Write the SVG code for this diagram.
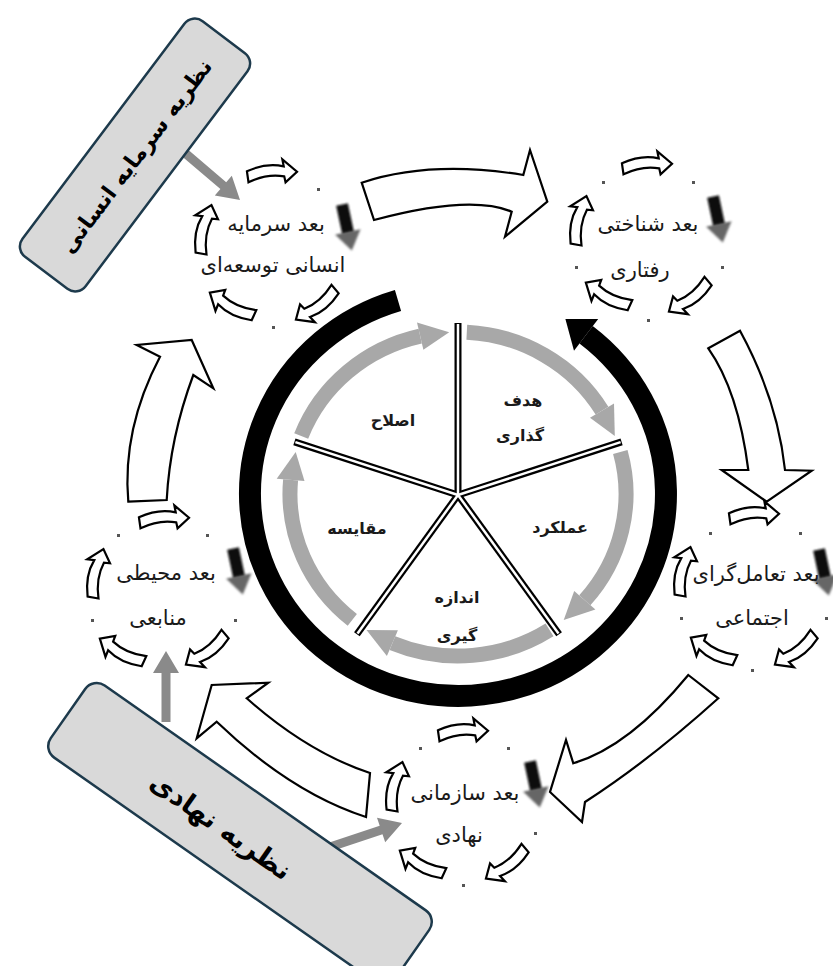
<svg xmlns="http://www.w3.org/2000/svg" width="833" height="966" viewBox="0 0 833 966">
<defs>
<style>
.lbl{font-family:"DejaVu Sans","Noto Sans",sans-serif;font-size:21px;fill:#1a1a1a;text-anchor:middle}
.pie{font-family:"DejaVu Sans","Noto Sans",sans-serif;font-size:16px;font-weight:bold;fill:#1a1a1a;text-anchor:middle}
.th{font-family:"DejaVu Sans","Noto Sans",sans-serif;font-size:22px;font-weight:bold;fill:#000;text-anchor:middle}
.box{fill:#d9d9d9;stroke:#1d3a4c;stroke-width:2.5}
.big{fill:#fff;stroke:#000;stroke-width:2.2;stroke-linejoin:miter}
.sm{fill:#fff;stroke:#000;stroke-width:2.2}
.link{fill:#8a8a8a}
.ring{fill:none;stroke:#a8a8a8;stroke-width:15}
.gh{fill:#a8a8a8}
.dot{fill:#555}
.spk{stroke:#000;stroke-width:7;stroke-linecap:butt}
.spw{stroke:#fff;stroke-width:2.5;stroke-linecap:butt}
</style>
<filter id="blur" x="-50%" y="-50%" width="200%" height="200%"><feGaussianBlur stdDeviation="1.1"/></filter>
<path id="sa" class="sm" d="M-25,-2 Q-5,-10 12,-5 L11,-12 L25,1 L13,11 L12,5 Q-5,1 -24,9 Z"/>
<g id="da"><path d="M-6,-24 L6,-24 L6,6 L-6,6 Z" fill="#111" filter="url(#blur)"/><path d="M-13,4 L13,4 L0,23 Z" fill="#666" filter="url(#blur)"/></g>
</defs>

<g id="cycle-ring">
<path d="M398,300.5 A208 202 0 1 0 586.1,334.8" fill="none" stroke="#000" stroke-width="22"/>
<path d="M598.2,318.9 L565.4,319.1 L574,350.7 Z" fill="#000"/>
</g>

<g id="inner-cycle">
<path class="ring" d="M466.8,332.2 A168 162 0 0 1 602,410.6"/>
<path class="gh" d="M614,403.4 L614.8,435.9 L590,417.8 Z"/>
<path class="ring" d="M620.3,452.1 A168 162 0 0 1 584.8,600.3"/>
<path class="gh" d="M595.4,609.5 L563.7,619.9 L574.2,591.1 Z"/>
<path class="ring" d="M549.5,629.9 A168 162 0 0 1 392.4,643.1"/>
<path class="gh" d="M386.9,656 L366.5,629.9 L397.9,630.2 Z"/>
<path class="ring" d="M352.3,619.9 A168 162 0 0 1 290.6,479.9"/>
<path class="gh" d="M276.7,478.7 L295.7,452.1 L304.5,481.1 Z"/>
<path class="ring" d="M301.2,435.9 A168 162 0 0 1 420.2,336.1"/>
<path class="gh" d="M417,322.5 L449.2,332.2 L423.4,349.7 Z"/>
<g class="spk">
<line x1="458" y1="495" x2="458" y2="323"/>
<line x1="458" y1="495" x2="621.6" y2="441.8"/>
<line x1="458" y1="495" x2="559.1" y2="634.2"/>
<line x1="458" y1="495" x2="356.9" y2="634.2"/>
<line x1="458" y1="495" x2="294.4" y2="441.8"/>
</g>
<g class="spw">
<line x1="458" y1="495" x2="458" y2="324"/>
<line x1="458" y1="495" x2="620.6" y2="442.1"/>
<line x1="458" y1="495" x2="558.5" y2="633.4"/>
<line x1="458" y1="495" x2="357.5" y2="633.4"/>
<line x1="458" y1="495" x2="295.4" y2="442.1"/>
</g>
</g>

<g id="wedge-goal"><text class="pie" x="523" y="406">هدف</text><text class="pie" x="520" y="441">گذاری</text></g>
<g id="wedge-performance"><text class="pie" x="560" y="533">عملکرد</text></g>
<g id="wedge-measure"><text class="pie" x="457" y="603">اندازه</text><text class="pie" x="457" y="641">گیری</text></g>
<g id="wedge-compare"><text class="pie" x="357" y="534">مقایسه</text></g>
<g id="wedge-correct"><text class="pie" x="393" y="426">اصلاح</text></g>

<g id="connectors">
<path class="big" d="M361.7,182.7 Q430.9,159.8 523.3,175 L530,150 L547.3,201.7 L505,236.7 L511.7,211.7 Q470.6,194.2 374,220 Z"/>
<path class="big" d="M708.3,348.3 L740,330.7 Q777.5,399.7 785,470 L811.7,470.7 L766.7,501.7 L721.7,470 L748.3,470 Q738.3,390.9 708.3,348.3 Z"/>
<path class="big" d="M688.3,675 L718.3,698.3 Q650,760 585,802 L582,822 L550,792 L566,740 L573.3,763.3 Q629.2,746.8 688.3,675 Z"/>
<path class="big" d="M370,773 Q307.7,752.4 246.7,698.3 L268.3,682.7 L211.7,685 L196.7,738.3 L216.7,721.7 Q290.6,792.6 366,817 Z"/>
<path class="big" d="M128.3,501.7 L166.7,500 Q170,437.5 193.3,375 L213.3,388.3 L191.7,340 L136.7,345 L160,356.7 Q122,429 128.3,501.7 Z"/>
<path class="link" d="M182.1,156.4 L220.4,189.1 L214.8,195.6 L240,200 L231.8,175.8 L226.2,182.3 L187.9,149.6 Z"/>
<path class="link" d="M161.5,722 L161.5,673 L153,673 L166,651 L179,673 L170.5,673 L170.5,722 Z"/>
<path class="link" d="M316.4,856.3 L382.5,834.3 L385.2,842.3 L402,823 L377,817.7 L379.7,825.7 L313.6,847.7 Z"/>
</g>

<g id="theory-human-capital">
<rect class="box" x="-147.5" y="-39.5" width="295" height="79" rx="13" transform="translate(135,155) rotate(-53)"/>
<text class="th" transform="translate(136,156) rotate(-53)" dy="0.35em">نظریه سرمایه انسانی</text>
</g>

<g id="theory-institutional">
<rect class="box" x="-210" y="-44" width="420" height="88" rx="14" transform="translate(240,834) rotate(35)"/>
<text class="th" transform="translate(221,826) rotate(35)" dy="0.35em" style="font-size:27px">نظریه نهادی</text>
</g>

<g id="node-human-capital">
<use href="#sa" transform="translate(272,172) rotate(-3)"/>
<use href="#da" transform="translate(347,228) rotate(-12)"/>
<use href="#sa" transform="translate(317,306) rotate(145)"/>
<use href="#sa" transform="translate(231,306) rotate(210)"/>
<use href="#sa" transform="translate(204,229) rotate(-75)"/>
<text class="lbl" x="276" y="231">بعد سرمایه</text>
<text class="lbl" x="273" y="272">انسانی توسعه‌ای</text>
<rect class="dot" x="317" y="188" width="3" height="3"/><rect class="dot" x="272" y="326" width="3" height="3"/>
</g>

<g id="node-cognitive">
<use href="#sa" transform="translate(647,164) rotate(-3)"/>
<use href="#da" transform="translate(718,220) rotate(-12)"/>
<use href="#sa" transform="translate(690,298) rotate(145)"/>
<use href="#sa" transform="translate(607,296) rotate(210)"/>
<use href="#sa" transform="translate(579,220) rotate(-75)"/>
<text class="lbl" x="648" y="231">بعد شناختی</text>
<text class="lbl" x="640" y="277">رفتاری</text>
<rect class="dot" x="602" y="181" width="3" height="3"/><rect class="dot" x="692" y="181" width="3" height="3"/><rect class="dot" x="575" y="266" width="3" height="3"/><rect class="dot" x="721" y="266" width="3" height="3"/><rect class="dot" x="647" y="319" width="3" height="3"/>
</g>

<g id="node-social">
<use href="#sa" transform="translate(754,514) rotate(-3)"/>
<use href="#da" transform="translate(824,573) rotate(-12)"/>
<use href="#sa" transform="translate(796,651) rotate(145)"/>
<use href="#sa" transform="translate(712,651) rotate(210)"/>
<use href="#sa" transform="translate(683,571) rotate(-75)"/>
<text class="lbl" x="756" y="581">بعد تعامل‌گرای</text>
<text class="lbl" x="752" y="625">اجتماعی</text>
<rect class="dot" x="709" y="532" width="3" height="3"/><rect class="dot" x="799" y="532" width="3" height="3"/><rect class="dot" x="680" y="617" width="3" height="3"/><rect class="dot" x="825" y="617" width="3" height="3"/><rect class="dot" x="751" y="669" width="3" height="3"/>
</g>

<g id="node-environment">
<use href="#sa" transform="translate(164,518) rotate(-3)"/>
<use href="#da" transform="translate(238,572) rotate(-12)"/>
<use href="#sa" transform="translate(207,651) rotate(145)"/>
<use href="#sa" transform="translate(121,652) rotate(210)"/>
<use href="#sa" transform="translate(96,573) rotate(-75)"/>
<text class="lbl" x="166" y="580">بعد محیطی</text>
<text class="lbl" x="158" y="625">منابعی</text>
<rect class="dot" x="117" y="534" width="3" height="3"/><rect class="dot" x="206" y="534" width="3" height="3"/><rect class="dot" x="91" y="619" width="3" height="3"/><rect class="dot" x="234" y="619" width="3" height="3"/>
</g>

<g id="node-organizational">
<use href="#sa" transform="translate(463,731) rotate(-3)"/>
<use href="#da" transform="translate(535,785) rotate(-12)"/>
<use href="#sa" transform="translate(507,865) rotate(145)"/>
<use href="#sa" transform="translate(421,864) rotate(210)"/>
<use href="#sa" transform="translate(395,786) rotate(-75)"/>
<text class="lbl" x="465" y="800">بعد سازمانی</text>
<text class="lbl" x="459" y="842">نهادی</text>
<rect class="dot" x="419" y="747" width="3" height="3"/><rect class="dot" x="507" y="747" width="3" height="3"/><rect class="dot" x="534" y="832" width="3" height="3"/><rect class="dot" x="462" y="884" width="3" height="3"/>
</g>
</svg>
